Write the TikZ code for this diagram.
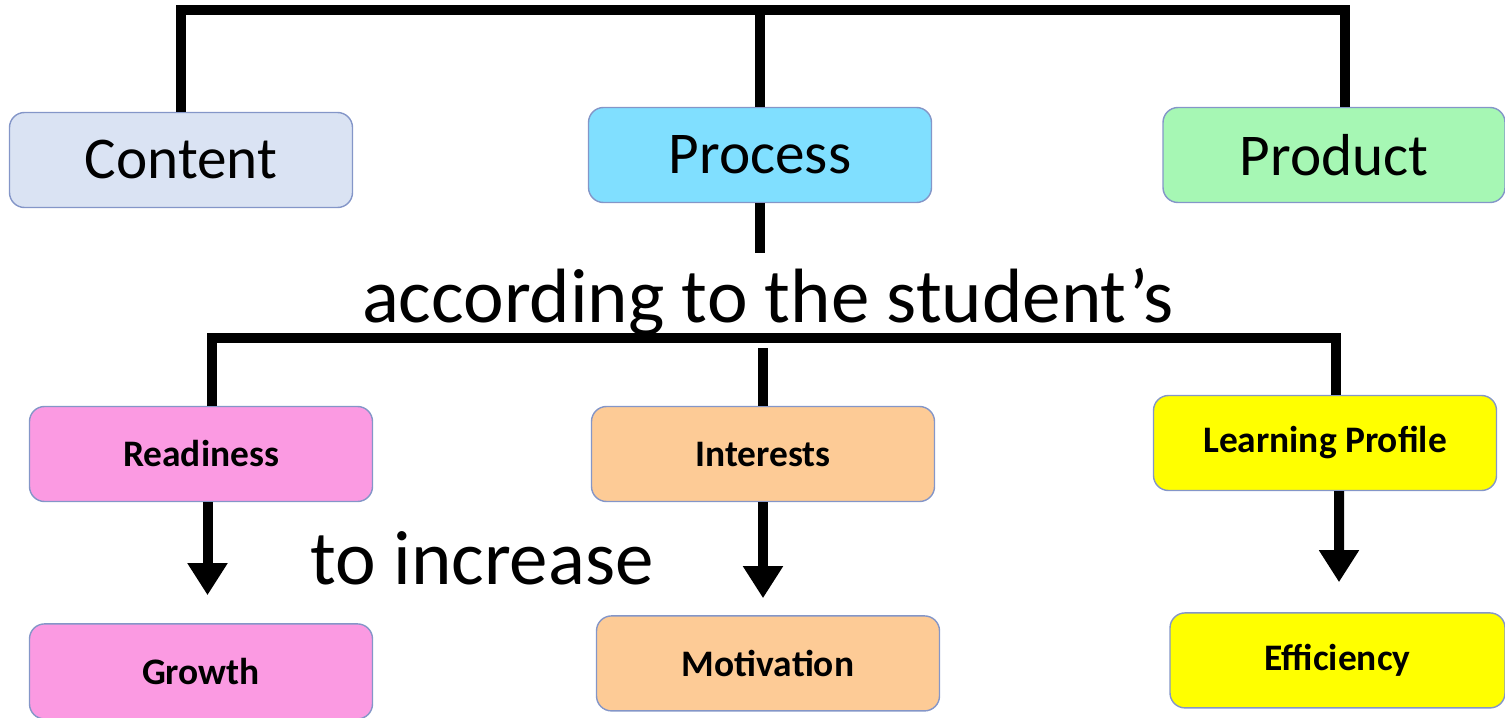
\documentclass[tikz,border=0pt]{standalone}
\usepackage{fontspec}
\setmainfont{Carlito}
\usetikzlibrary{arrows.meta,positioning}

\definecolor{boxline}{HTML}{8496C8}
\definecolor{contentblue}{HTML}{DAE3F3}
\definecolor{processcyan}{HTML}{80DFFF}
\definecolor{productgreen}{HTML}{A6F7B4}
\definecolor{readypink}{HTML}{FB9AE2}
\definecolor{interestorange}{HTML}{FDCB96}
\definecolor{profileyellow}{HTML}{FFFF00}

\begin{document}
\begin{tikzpicture}[
x=0.2mm, y=-0.2mm,
node distance=2.42cm,
box/.style={draw=boxline, line width=0.8pt, rounded corners=3mm, align=center, minimum width=6.86cm, minimum height=1.9cm, inner sep=0pt},
big/.style={box, font=\fontsize{33.7}{40}\selectfont},
small/.style={box, font=\bfseries\fontsize{21.3}{26}\selectfont},
caption/.style={anchor=base, inner sep=0pt, font=\fontsize{43.8}{50}\selectfont},
link/.style={line width=2mm},
arrow/.style={-{Triangle[width=7.6mm,length=6.4mm]}, line width=2mm}
]
\useasboundingbox (0,0) rectangle (1505,717);

% top row
\node[big, fill=contentblue] (cont) at (181,160) {Content};
\node[big, fill=processcyan] (proc) at (760,155) {Process};
\node[big, fill=productgreen, minimum width=6.84cm] (prod) at (1334,155) {Product};

% student traits
\node[small, fill=readypink] (read) at (201,454) {Readiness};
\node[small, fill=interestorange] (intr) at (763,454) {Interests};
\node[small, fill=profileyellow] (prof) at (1325,443) {Learning Profile};

% outcomes
\node[small, fill=readypink, below=of read] (grow) {Growth};
\node[small, fill=interestorange, below=2.26cm of intr, xshift=1mm] (moti) {Motivation};
\node[small, fill=profileyellow, minimum width=6.7cm, below=of prof, xshift=2.5mm] (effi) {Efficiency};

\node[caption] (according) at (768,322) {according to the student’s};
\node[caption] (increase) at (482,584) {to increase};

\coordinate (topbar) at (0,10);
\coordinate (midbar) at (0,338);
\coordinate (prodtop) at ([xshift=2.2mm]prod.north);
\coordinate (readtop) at ([xshift=2.1mm]read.north);
\coordinate (proftop) at ([xshift=2.2mm]prof.north);
\coordinate (drop) at ([yshift=-1cm]proc.south);

\draw[link] (cont.north) -- (cont.north |- topbar) -- (prodtop |- topbar) -- (prodtop);
\draw[link] (proc.north) -- (proc.north |- topbar);
\draw[link] (proc.south) -- (drop);

\draw[link] (readtop) -- (readtop |- midbar) -- (proftop |- midbar) -- (proftop);
\draw[link] (intr.north |- midbar) ++(0,10) -- (intr.north);

\draw[arrow, shorten >=5.6mm] ([xshift=1.3mm]read.south) -- ([xshift=1.3mm]grow.north);
\draw[arrow, shorten >=3.4mm] (intr.south) -- (intr.south |- moti.north);
\draw[arrow, shorten >=6mm] ([xshift=2.8mm]prof.south) -- ([xshift=0.3mm]effi.north);
\end{tikzpicture}
\end{document}
